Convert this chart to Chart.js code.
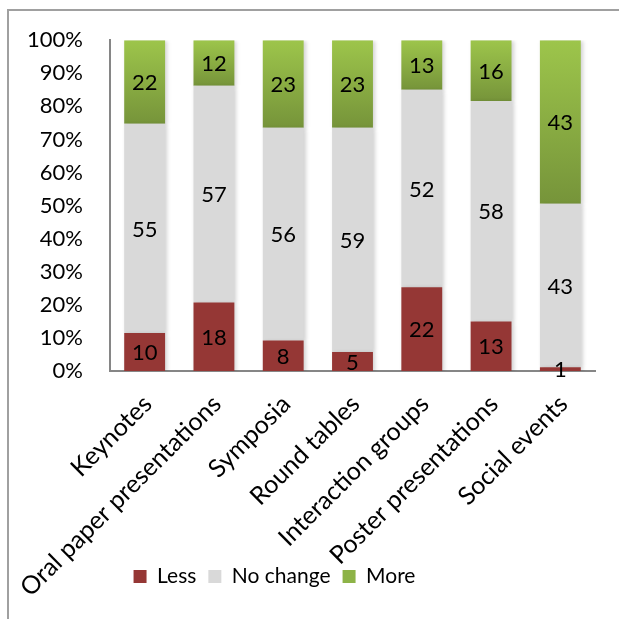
<!DOCTYPE html>
<html><head><meta charset="utf-8">
<script src="https://cdn.jsdelivr.net/npm/chart.js@4.4.1/dist/chart.umd.min.js"></script>
<style>html,body{margin:0;padding:0;background:#fff}#wrap{width:619px;height:619px}</style>
</head><body><div id="wrap"><canvas id="c" width="619" height="619"></canvas></div>
<script>
const categories = ["Keynotes","Oral paper presentations","Symposia","Round tables","Interaction groups","Poster presentations","Social events"];
const lessValues = [10,18,8,5,22,13,1];
const noChangeValues = [55,57,56,59,52,58,43];
const moreValues = [22,12,23,23,13,16,43];
const yTicks = [0,10,20,30,40,50,60,70,80,90,100];

const totals = categories.map((_, i) => lessValues[i] + noChangeValues[i] + moreValues[i]);
const pct = arr => arr.map((v, i) => v / totals[i] * 100);
const FONT = "Lato";

function greenGrad(ctx) {
  const chart = ctx.chart;
  const area = chart.chartArea;
  if (!area || ctx.type !== 'data') return '#8db347';
  const i = ctx.dataIndex;
  const y = chart.scales.y;
  const top = y.getPixelForValue(100);
  const bot = y.getPixelForValue(100 - pct(moreValues)[i]);
  const g = chart.ctx.createLinearGradient(0, top, 0, bot);
  g.addColorStop(0, '#9dc54b');
  g.addColorStop(1, '#76943a');
  return g;
}

const framePlugin = {
  id: 'frame',
  beforeDraw(chart) {
    const c = chart.ctx;
    c.save();
    c.strokeStyle = '#a0a0a0';
    c.lineWidth = 2;
    c.beginPath();
    c.moveTo(8, 700); c.lineTo(8, 10); c.lineTo(700, 10);
    c.stroke();
    c.restore();
  }
};

const legendShift = {
  id: 'legendShift',
  afterLayout(chart) {
    const l = chart.legend;
    if (l) { l.left -= 23; l.right -= 23; }
  }
};

const catLabels = {
  id: 'catLabels',
  afterDraw(chart) {
    const c = chart.ctx;
    const xs = chart.scales.x;
    const base = chart.chartArea.bottom;
    c.save();
    c.fillStyle = '#000';
    c.font = `25px ${FONT}`;
    c.textAlign = 'right';
    c.textBaseline = 'middle';
    chart.data.labels.forEach((lab, i) => {
      const x = xs.getPixelForValue(i);
      c.save();
      c.translate(x + 3, base + 29);
      c.rotate(-Math.PI / 4);
      c.fillText(lab, 0, 0);
      c.restore();
    });
    c.restore();
  }
};

const shadowPlugin = {
  id: 'shadow',
  beforeDatasetDraw(chart) {
    const c = chart.ctx;
    c.save();
    c.shadowColor = 'rgba(0,0,0,0.18)';
    c.shadowBlur = 4;
    c.shadowOffsetX = 2;
    c.shadowOffsetY = 1;
  },
  afterDatasetDraw(chart) { chart.ctx.restore(); }
};

const labelPlugin = {
  id: 'vals',
  afterDatasetsDraw(chart) {
    const c = chart.ctx;
    c.save();
    c.fillStyle = '#000';
    c.font = `22px ${FONT}`;
    c.textAlign = 'center';
    c.textBaseline = 'middle';
    chart.data.datasets.forEach((ds, di) => {
      const meta = chart.getDatasetMeta(di);
      meta.data.forEach((el, i) => {
        const cy = (el.y + el.base) / 2;
        c.fillText(String(ds.rawVals[i]), el.x, cy + 1);
      });
    });
    c.restore();
  }
};

new Chart(document.getElementById('c'), {
  type: 'bar',
  data: {
    labels: categories,
    datasets: [
      { label: 'Less', data: pct(lessValues), rawVals: lessValues, backgroundColor: '#953735' },
      { label: 'No change', data: pct(noChangeValues), rawVals: noChangeValues, backgroundColor: '#d9d9d9' },
      { label: 'More', data: pct(moreValues), rawVals: moreValues, backgroundColor: greenGrad }
    ]
  },
  options: {
    responsive: false,
    animation: false,
    layout: { padding: { left: 0, right: 24, top: 24, bottom: 22 } },
    datasets: { bar: { categoryPercentage: 1, barPercentage: 0.59, borderWidth: 0 } },
    scales: {
      x: {
        stacked: true,
        grid: { display: false, drawTicks: false },
        border: { display: true, color: '#868686', width: 2 },
        ticks: { display: false },
        afterFit(s) { s.height = 183; }
      },
      y: {
        stacked: true,
        min: 0, max: 100,
        grid: { display: false, drawTicks: false },
        border: { display: true, color: '#868686', width: 2 },
        afterBuildTicks(s) { s.ticks = yTicks.map(v => ({ value: v })); },
        ticks: { color: '#000', font: { family: FONT, size: 22 }, padding: 27, callback: v => v + '%' },
        afterFit(s) { s.width = 110; }
      }
    },
    plugins: {
      tooltip: { enabled: false },
      legend: {
        position: 'bottom',
        labels: {
          color: '#000',
          font: { family: FONT, size: 21 },
          boxWidth: 13, boxHeight: 13, padding: 12,
          generateLabels(chart) {
            const fills = ['#953735', '#d9d9d9', '#8db347'];
            return chart.data.datasets.map((d, i) => ({ text: d.label, fillStyle: fills[i], strokeStyle: fills[i], lineWidth: 0, datasetIndex: i, fontColor: '#000' }));
          }
        }
      }
    }
  },
  plugins: [framePlugin, legendShift, shadowPlugin, labelPlugin, catLabels]
});
</script></body></html>
